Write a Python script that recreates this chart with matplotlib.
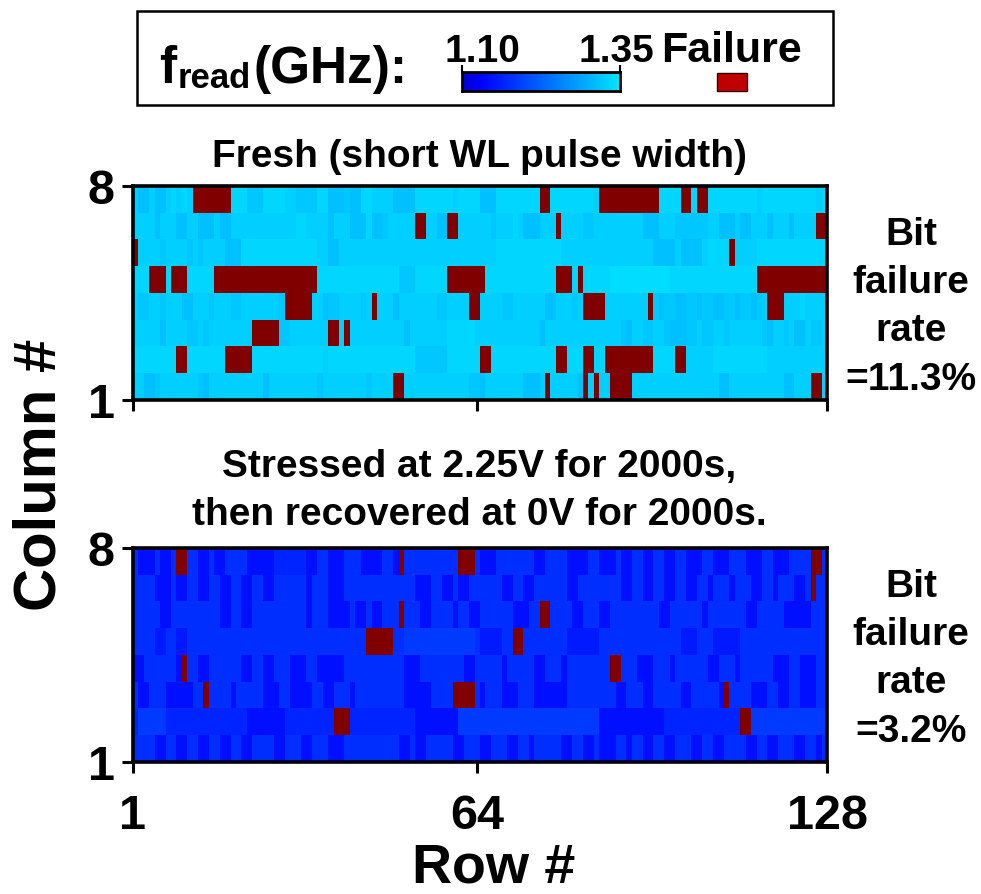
import numpy as np
import matplotlib
matplotlib.use("Agg")
import matplotlib.pyplot as plt
from matplotlib.colors import LinearSegmentedColormap
from matplotlib.patches import Rectangle

plt.rcParams['font.family'] = ['Liberation Sans', 'DejaVu Sans']
plt.rcParams['font.weight'] = 'bold'

# ---------------------------------------------------------------------------
# Read-frequency maps of the 8 x 128 array.
# One string per column (column 8 first), one character per row (row 1 first).
# Digits are frequency levels, 'x' marks a failing bit.
# ---------------------------------------------------------------------------
fresh_map = [
    "75575578 787xxxxx xx888666 88887766 66885556 55887777 55558888 88878888 55588888 888xx888 888887xx xxxxxxxx x8888xx8 xx888888 88878888 88888878",
    "77775777 55775557 55777777 77777788 77775777 55585567 7777xx77 55xx7777 77677787 555777x7 77766777 77777755 57776666 66775557 55777577 757777xx",
    "x7777677 77676777 75558888 88888888 88775577 77777777 77777777 77777777 77788888 88888887 77777777 77777777 55557555 578888x7 77788888 88888888",
    "888xxx8x xx88888x xxxxxxxx xxxxxxxx xx888888 88888888 86668888 88xxxxxx x8888888 888888xx x8x88888 99999999 99988888 88888888 888xxxxx xxxxxxxx",
    "76677677 75577767 77667777 7776xxxx x7756677 7767x777 57777777 667777xx 77776677 77775577 767xxxx7 7777777x 65665566 56655665 66567xxx 77787777",
    "77777577 77667677 777777xx xxx66777 7777xx7x 77777777 77577777 77888887 77777777 77757777 77777777 77657766 77655566 76677677 77776577 67557667",
    "88888888 xx888888 8xxxxx88 88888888 88878888 88888888 88886666 66888888 xx888888 888888xx 888xx88x xxxxxxxx 8888xx77 77788888 88888777 77777777",
    "77556777 77776577 77777777 57777777 77677777 77767777 xx777777 77777766 57777777 5557x777 775x7x77 xxxx7777 77777777 77775577 77777777 55777xx7",
]
stressed_map = [
    "74447447 xx774474 47777444 44666666 44774447 77444477 4x777777 7777xxx7 44477777 77447777 44447744 47447744 77447744 47744477 74447744 47777xx7",
    "77774447 44774477 44774477 44777777 47774447 77777777 77774447 74474477 77774477 44777777 44777777 77447744 77447744 77477747 77447747 77447x77",
    "77777447 77777777 44774477 77777777 47774444 74474477 7x777447 77747744 77777744 477xx777 74477744 77777777 74477777 74777777 74477777 44444777",
    "77775577 55777777 77777777 77777777 77777777 777xxxxx 77888888 88888887 555577xx 77777777 55555577 77777777 77777555 77755555 77777777 77777777",
    "44777777 4x774477 77774477 44777444 77444447 77777777 77444777 77777447 77774777 77447774 77777777 xx777444 77747777 77447774 77777744 47744477",
    "74477744 44477x77 77477777 44477444 47744777 47777777 77444447 777xxxx7 47774447 77444444 77777777 74477744 77777447 77774x77 77444774 47744477",
    "68888866 66666666 66666444 44446666 66666xxx 66666666 66664444 44448888 88888888 88888888 88888844 44444444 44666666 66666666 xx888888 88888888",
    "77774477 44774477 44774477 77447774 47774447 77777777 74474477 77744777 44777447 74777774 47744744 47747744 77447774 47744777 74477447 77447747",
]

# frequency (GHz) = level0 + step * digit
fresh_level0, fresh_step = 1.279, 0.007
stressed_level0, stressed_step = 1.105, 0.010

f_min, f_max = 1.10, 1.35
row_ticks = [1, 64, 128]
col_ticks = [1, 8]

fresh_title = "Fresh (short WL pulse width)"
stressed_title = ["Stressed at 2.25V for 2000s,", "then recovered at 0V for 2000s."]
fresh_rate = ["Bit", "failure", "rate", "=11.3%"]
stressed_rate = ["Bit", "failure", "rate", "=3.2%"]


def decode(rows, level0, step):
    grid = np.full((len(rows), 128), np.nan)
    for r, text in enumerate(rows):
        cells = "".join(text.split())
        for c, ch in enumerate(cells):
            if ch != "x":
                grid[r, c] = level0 + step * int(ch)
    return np.ma.masked_invalid(grid)


fresh = decode(fresh_map, fresh_level0, fresh_step)
stressed = decode(stressed_map, stressed_level0, stressed_step)

cmap = LinearSegmentedColormap.from_list(
    "fread", [(0.0, (0.0, 0.0, 0.80)), (0.12, (0.0, 0.0, 1.0)), (1.0, (0.0, 0.9, 1.0))])
cmap.set_bad("#800000")

W, H = 981, 895
fig = plt.figure(figsize=(W / 100, H / 100), dpi=100)


def fx(px):
    return px / W


def fy(py):
    return 1 - py / H


def panel(top_px, data, show_labels):
    ax = fig.add_axes([fx(133), fy(top_px + 214), fx(694), 214 / H])
    ax.imshow(data, cmap=cmap, vmin=f_min, vmax=f_max, aspect="auto",
              interpolation="nearest", origin="upper", extent=(1, 128, 1, 8))
    ax.set_xlim(1, 128)
    ax.set_ylim(1, 8)
    ax.set_xticks(row_ticks)
    ax.set_yticks(col_ticks)
    ax.tick_params(direction="out", length=8, width=2.2, labelsize=35, pad=5)
    ax.tick_params(axis="x", pad=14)
    if not show_labels:
        ax.tick_params(labelbottom=False)
    for s in ax.spines.values():
        s.set_linewidth(2.6)
    return ax


ax_top = panel(187, fresh, False)
ax_bot = panel(549, stressed, True)

# titles
fig.text(fx(479), fy(167), fresh_title, ha="center", va="baseline", fontsize=28)
fig.text(fx(479), fy(477), stressed_title[0], ha="center", va="baseline", fontsize=28)
fig.text(fx(479), fy(525), stressed_title[1], ha="center", va="baseline", fontsize=28)

# failure-rate annotations
for line, base in zip(fresh_rate, [245, 293, 341, 390]):
    fig.text(fx(911), fy(base), line, ha="center", va="baseline", fontsize=28)
for line, base in zip(stressed_rate, [597, 645, 693, 742]):
    fig.text(fx(911), fy(base), line, ha="center", va="baseline", fontsize=28)

# axis labels
fig.text(fx(40), fy(475), "Column #", rotation=90, ha="center", va="center", fontsize=43)
fig.text(fx(494), fy(883), "Row #", ha="center", va="baseline", fontsize=40)

# legend box
fig.add_artist(Rectangle((fx(137), fy(106)), fx(833 - 137), 94 / H,
                         transform=fig.transFigure, fill=False, lw=1.8, ec="black"))
fig.text(fx(159), fy(83), "f", ha="left", va="baseline", fontsize=37)
fig.text(fx(178), fy(88), "read", ha="left", va="baseline", fontsize=25)
fig.text(fx(254), fy(83), "(GHz):", ha="left", va="baseline", fontsize=37)

cax = fig.add_axes([fx(462), fy(92), fx(158), 19 / H])
cax.imshow(np.linspace(f_min, f_max, 256)[None, :], cmap=cmap, vmin=f_min, vmax=f_max,
           aspect="auto", extent=(f_min, f_max, 0, 1))
cax.xaxis.tick_top()
cax.set_xticks([f_min, f_max])
cax.set_yticks([])
cax.tick_params(axis="x", direction="out", length=5, width=1.5, labeltop=False)
for s in cax.spines.values():
    s.set_linewidth(2.0)
fig.text(fx(482), fy(62), f"{f_min:.2f}", ha="center", va="baseline", fontsize=28)
fig.text(fx(616), fy(62), f"{f_max:.2f}", ha="center", va="baseline", fontsize=28)
fig.text(fx(661), fy(62), "Failure", ha="left", va="baseline", fontsize=31)
fig.add_artist(Rectangle((fx(717), fy(92)), fx(30), 18 / H, transform=fig.transFigure,
                         fc="#C00000", ec="#300000", lw=1.0))

fig.savefig("out.png", dpi=100)
